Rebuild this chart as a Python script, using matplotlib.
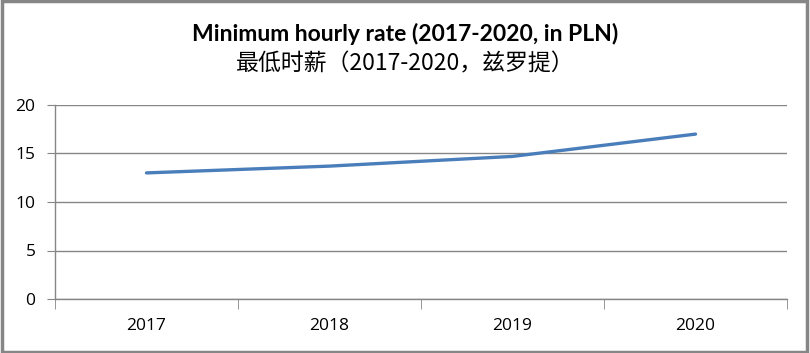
"""Minimum hourly rate in Poland, 2017-2020 (Excel-style line chart)."""
import matplotlib.pyplot as plt
from matplotlib.patches import Rectangle

years = ["2017", "2018", "2019", "2020"]
rate_pln = [13.0, 13.7, 14.7, 17.0]
y_ticks = [0, 5, 10, 15, 20]

title_en = "Minimum hourly rate (2017-2020, in PLN)"
title_zh = "最低时薪（2017-2020，兹罗提）"

GRID = "#868686"
LINE = "#4a7ebb"
FONTS = ["Open Sans", "Noto Sans CJK SC", "DejaVu Sans"]

plt.rcParams["font.family"] = FONTS

fig = plt.figure(figsize=(8.1, 3.53), dpi=100)
ax = fig.add_axes([55 / 810, 1 - 299 / 353, 732 / 810, 194 / 353])

x = range(len(years))
ax.plot(x, rate_pln, color=LINE, lw=2.4, solid_capstyle="round")

ax.set_xlim(-0.5, len(years) - 0.5)
ax.set_ylim(0, 20)
ax.set_yticks(y_ticks)
ax.set_xticks(list(x))
ax.set_xticklabels(years)
ax.set_xticks([i - 0.5 for i in range(len(years) + 1)], minor=True)
ax.tick_params(axis="x", which="major", length=0, pad=14, labelsize=12.5)
ax.tick_params(axis="x", which="minor", length=7, color=GRID, direction="out")
ax.tick_params(axis="y", length=6, color=GRID, labelsize=12.5, pad=8)

ax.grid(axis="y", color=GRID, lw=1)
ax.set_axisbelow(True)
for side in ["top", "right"]:
    ax.spines[side].set_visible(False)
for side in ["left", "bottom"]:
    ax.spines[side].set_color(GRID)
    ax.spines[side].set_linewidth(1)

fig.text(0.5, 1 - 34 / 353, title_en, ha="center", va="center", fontsize=16.5,
         fontweight="bold", family=["Lato", "DejaVu Sans"])
fig.text(0.5, 1 - 64 / 353, title_zh, ha="center", va="center", fontsize=16.5,
         fontweight="medium", family=["Noto Sans CJK SC", "DejaVu Sans"])

# outer chart border
fig.patches.append(Rectangle((0.002, 0.004), 0.994, 0.992, transform=fig.transFigure,
                             fill=False, edgecolor=GRID, lw=2.5))

fig.savefig("out.png", dpi=100)
